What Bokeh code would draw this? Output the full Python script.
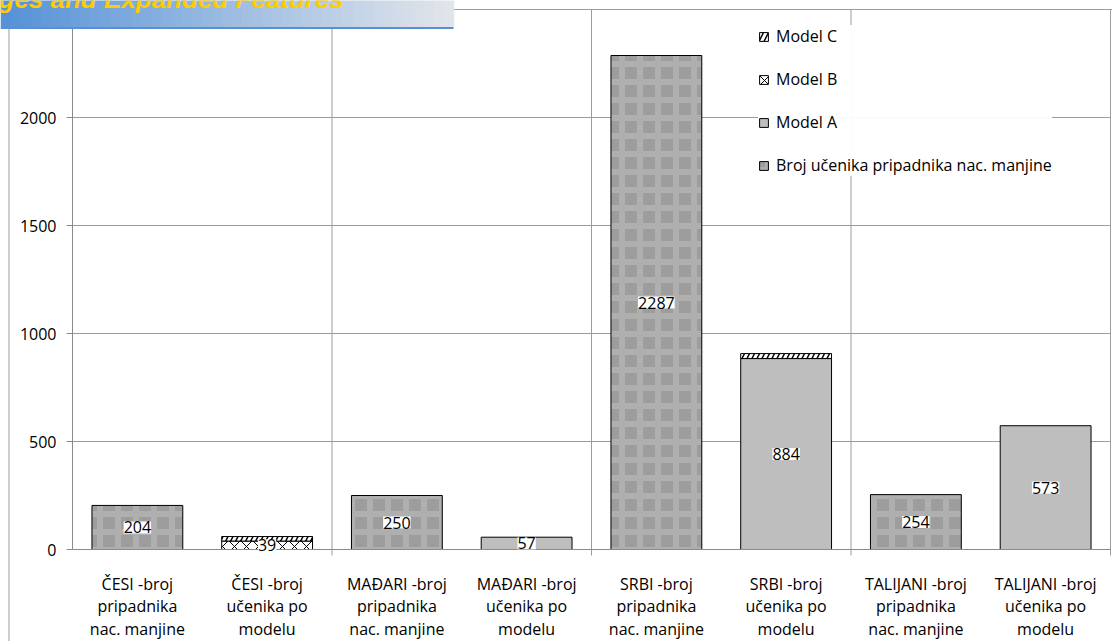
from bokeh.plotting import figure
from bokeh.models import (ColumnDataSource, Range1d, FixedTicker, LabelSet, Legend,
                          LegendItem, BoxAnnotation, Label, LinearAxis)
from bokeh.core.properties import value
from bokeh.embed import file_html
from bokeh.resources import INLINE

# ---------------- data ----------------
categories = [
    "ČESI -broj\npripadnika\nnac. manjine",
    "ČESI -broj\nučenika po\nmodelu",
    "MAĐARI -broj\npripadnika\nnac. manjine",
    "MAĐARI -broj\nučenika po\nmodelu",
    "SRBI -broj\npripadnika\nnac. manjine",
    "SRBI -broj\nučenika po\nmodelu",
    "TALIJANI -broj\npripadnika\nnac. manjine",
    "TALIJANI -broj\nučenika po\nmodelu",
]
broj = [204, 0, 250, 0, 2287, 0, 254, 0]
model_a = [0, 0, 0, 57, 0, 884, 0, 573]
model_b = [0, 39, 0, 0, 0, 0, 0, 0]
model_c = [0, 21, 0, 0, 0, 23, 0, 0]
series_names = ["Broj učenika pripadnika nac. manjine", "Model A", "Model B", "Model C"]
y_ticks = [0, 500, 1000, 1500, 2000]
y_max = 2500
banner_text = "ges and Expanded Features"

FONT = "Open Sans"
GRID = "#9c9c9c"
AXIS = "#8a8a8a"

W, H = 1112, 641
# plot-area placement in pixels
PL, PR, PT, PB = 72, 1110, 9, 549
ncat = len(categories)
cpx = (PR - PL) / ncat            # pixels per category
upx = (PB - PT) / y_max           # pixels per value unit


def dx(px):
    return (px - PL) / cpx


def dy(py):
    return (PB - py) / upx


xs = [i + 0.5 for i in range(ncat)]

p = figure(width=W, height=H, output_backend="svg", toolbar_location=None,
           x_range=Range1d(dx(0), dx(W)), y_range=Range1d(dy(H), dy(0)),
           min_border=0, x_axis_location=None, y_axis_location=None)
p.background_fill_color = "white"
p.border_fill_color = "white"
p.outline_line_color = None
p.xgrid.grid_line_color = None
p.ygrid.grid_line_color = None

# grid lines and plot/chart borders
hg = y_ticks[1:]
p.segment(x0=[0] * len(hg), x1=[ncat] * len(hg), y0=hg, y1=hg, line_color=GRID,
          line_width=1, level="underlay")
vg = [2, 4, 6, 8]
p.segment(x0=vg, x1=vg, y0=[dy(PB + 6)] * len(vg), y1=[y_max] * len(vg), line_color=GRID,
          line_width=1, level="underlay")
p.segment(x0=[0], x1=[dx(W)], y0=[y_max], y1=[y_max], line_color=GRID, line_width=1,
          level="underlay")
p.segment(x0=[dx(8.5)], x1=[dx(8.5)], y0=[dy(28)], y1=[dy(H)], line_color=GRID,
          line_width=1, level="underlay")

# axes (drawn inside the frame at fixed locations)
xaxis = LinearAxis(fixed_location=0, ticker=FixedTicker(ticks=xs), bounds=(0, ncat))
xaxis.major_label_overrides = {x: c for x, c in zip(xs, categories)}
xaxis.major_tick_in = 0
xaxis.major_tick_out = 0
xaxis.minor_tick_line_color = None
xaxis.axis_line_color = AXIS
xaxis.major_label_standoff = 23
xaxis.major_label_text_font = FONT
xaxis.major_label_text_font_size = "16px"
xaxis.major_label_text_color = "black"
xaxis.major_label_text_line_height = 1.04
p.add_layout(xaxis, "below")

yaxis = LinearAxis(fixed_location=0, ticker=FixedTicker(ticks=y_ticks), bounds=(0, y_max))
yaxis.major_tick_in = 0
yaxis.major_tick_out = 6
yaxis.minor_tick_line_color = None
yaxis.axis_line_color = AXIS
yaxis.major_tick_line_color = AXIS
yaxis.major_label_standoff = 10
yaxis.major_label_text_font = FONT
yaxis.major_label_text_font_size = "16px"
yaxis.major_label_text_color = "black"
p.add_layout(yaxis, "left")

# stacked bars
stack = [broj, model_a, model_b, model_c]
styles = [
    dict(fill_color="#9d9d9d", hatch_pattern="cross", hatch_color="#afafaf",
         hatch_scale=18, hatch_weight=6),
    dict(fill_color="#bebebe"),
    dict(fill_color="white", hatch_pattern="diagonal_cross", hatch_color="black",
         hatch_scale=12, hatch_weight=1),
    dict(fill_color="black", hatch_pattern="right_diagonal_line", hatch_color="white",
         hatch_scale=10, hatch_weight=3),
]
bottoms = [0] * ncat
renderers = []
label_x, label_y, label_t = [], [], []
for si, vals in enumerate(stack):
    d = dict(x=[], bottom=[], top=[])
    for i, v in enumerate(vals):
        if v > 0:
            d["x"].append(xs[i])
            d["bottom"].append(bottoms[i])
            d["top"].append(bottoms[i] + v)
            if si < 3:
                label_x.append(xs[i])
                label_y.append(bottoms[i] + v / 2)
                label_t.append(str(v))
    for i, v in enumerate(vals):
        bottoms[i] += v
    r = p.vbar(x="x", bottom="bottom", top="top", width=0.70, source=ColumnDataSource(d),
               line_color="black", line_width=1, **styles[si])
    renderers.append(r)

labels = LabelSet(x="x", y="y", text="text",
                  source=ColumnDataSource(dict(x=label_x, y=label_y, text=label_t)),
                  text_align="center", text_baseline="middle", text_font=value(FONT),
                  text_font_size=value("16px"), text_color="black",
                  background_fill_color="white")
p.add_layout(labels)

legend = Legend(items=[LegendItem(label=series_names[k], renderers=[renderers[k]])
                       for k in (3, 2, 1, 0)],
                location=(758, 465), orientation="vertical",
                background_fill_color="white", border_line_color=None,
                padding=6, margin=0, spacing=21, label_height=20,
                glyph_height=11, glyph_width=11, label_standoff=7,
                label_text_font=FONT, label_text_font_size="16px",
                label_text_color="black")
p.add_layout(legend)

# decorative banner (top-left)
n = 45
c0 = (86, 146, 216)
c1 = (225, 229, 234)
bw = 453.0
for k in range(n):
    t = k / (n - 1)
    col = "#%02x%02x%02x" % tuple(int(round(c0[j] + (c1[j] - c0[j]) * t)) for j in range(3))
    p.add_layout(BoxAnnotation(left=dx(bw * k / n), right=dx(bw * (k + 1) / n + 0.7),
                               bottom=dy(27), top=dy(-5),
                               fill_color=col, fill_alpha=1, line_alpha=0, level="overlay"))
p.add_layout(BoxAnnotation(left=dx(0), right=dx(bw), bottom=dy(28.5), top=dy(26.5),
                           fill_color="#5b8fd4", fill_alpha=1, line_alpha=0, level="overlay"))
p.add_layout(Label(x=dx(-2), y=dy(-2), text=banner_text, text_font="Liberation Sans",
                   text_font_style="bold italic", text_font_size="26px", text_color="#ffcc00",
                   text_baseline="alphabetic", level="overlay"))

open("out.html", "w").write(file_html(p, INLINE))
